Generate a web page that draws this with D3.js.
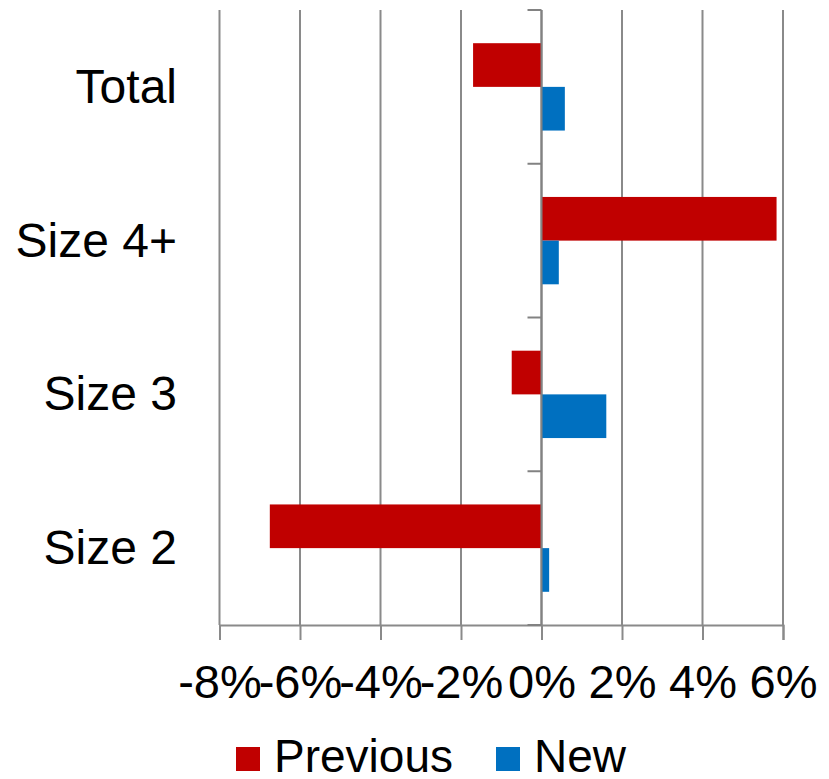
<!DOCTYPE html>
<html>
<head>
<meta charset="utf-8">
<title>Previous vs New</title>
<script src="https://d3js.org/d3.v7.min.js"></script>
<style>
  body { margin: 0; background: #fff; }
  text { font-family: "Liberation Sans", Arial, sans-serif; fill: #000; }
</style>
</head>
<body>
<script>
var w = 829, h = 779;

// data
var categories = ["Total", "Size 4+", "Size 3", "Size 2"];
var seriesNames = ["Previous", "New"];
var previousValues = [-1.70, 5.84, -0.74, -6.75];
var newValues = [0.58, 0.43, 1.61, 0.19];
var xTicks = [-8, -6, -4, -2, 0, 2, 4, 6];
var colors = ["#c00000", "#0070c0"];

var rows = categories.map(function(c, i) {
  return { cat: c, vals: [previousValues[i], newValues[i]] };
});

var svg = d3.select("body").append("svg")
  .attr("width", w)
  .attr("height", h);

var x = d3.scaleLinear().domain([-8, 6]).range([219.5, 783]);
var y = d3.scaleBand().domain(categories).range([10, 625]);
var ySub = d3.scaleBand().domain(seriesNames).range([0, y.bandwidth()])
  .paddingInner(0).paddingOuter(0.76);

// vertical gridlines
svg.append("g").selectAll("line")
  .data(xTicks)
  .enter().append("line")
  .attr("x1", function(d) { return x(d); })
  .attr("x2", function(d) { return x(d); })
  .attr("y1", 10)
  .attr("y2", 625)
  .attr("stroke", "#8a8a8a")
  .attr("stroke-width", 2);

// bars
var groups = svg.append("g").selectAll("g")
  .data(rows)
  .enter().append("g")
  .attr("transform", function(d) { return "translate(0," + y(d.cat) + ")"; });

groups.selectAll("rect")
  .data(function(d) { return d.vals.map(function(v, j) { return { s: seriesNames[j], v: v, j: j }; }); })
  .enter().append("rect")
  .attr("x", function(d) { return x(Math.min(0, d.v)); })
  .attr("width", function(d) { return Math.abs(x(d.v) - x(0)); })
  .attr("y", function(d) { return ySub(d.s); })
  .attr("height", ySub.bandwidth())
  .attr("fill", function(d) { return colors[d.j]; });

// x axis
var xAxis = d3.axisBottom(x)
  .tickValues(xTicks)
  .tickFormat(function(d) { return d + "%"; })
  .tickSizeOuter(0)
  .tickSize(15)
  .tickPadding(25);

var gx = svg.append("g")
  .attr("transform", "translate(0,625)")
  .call(xAxis);
gx.select(".domain").attr("stroke", "#8a8a8a").attr("stroke-width", 2);
gx.selectAll(".tick line").attr("stroke", "#8a8a8a").attr("stroke-width", 2);
gx.selectAll(".tick text")
  .attr("font-size", 47)
  .attr("font-family", "'Liberation Sans', Arial, sans-serif");

// vertical axis at zero with category boundary ticks
var bounds = categories.map(function(c) { return y(c); }).concat([625]);
svg.append("line")
  .attr("x1", x(0)).attr("x2", x(0))
  .attr("y1", 10).attr("y2", 625)
  .attr("stroke", "#828282")
  .attr("stroke-width", 2);
svg.append("g").selectAll("line")
  .data(bounds)
  .enter().append("line")
  .attr("x1", x(0) - 14)
  .attr("x2", x(0))
  .attr("y1", function(d) { return d; })
  .attr("y2", function(d) { return d; })
  .attr("stroke", "#828282")
  .attr("stroke-width", 2);

// category labels
svg.append("g").selectAll("text")
  .data(categories)
  .enter().append("text")
  .attr("x", 177)
  .attr("y", function(d) { return y(d) + y.bandwidth() / 2 + 16; })
  .attr("text-anchor", "end")
  .attr("font-size", 48)
  .text(function(d) { return d; });

// legend
var legendX = [236, 496];
var legend = svg.append("g").selectAll("g")
  .data(seriesNames)
  .enter().append("g")
  .attr("transform", function(d, i) { return "translate(" + legendX[i] + ",747)"; });
legend.append("rect")
  .attr("width", 24)
  .attr("height", 24)
  .attr("fill", function(d, i) { return colors[i]; });
legend.append("text")
  .attr("x", 38)
  .attr("y", 25)
  .attr("font-size", 46)
  .text(function(d) { return d; });
</script>
</body>
</html>
